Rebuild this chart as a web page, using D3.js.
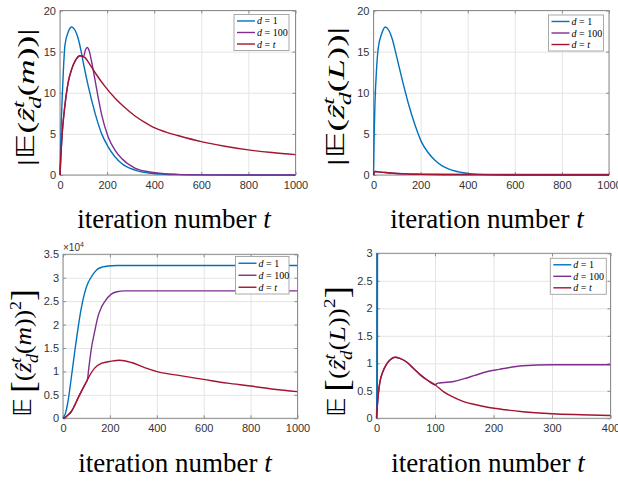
<!DOCTYPE html>
<html lang="en">
<head>
<meta charset="utf-8">
<title>iteration curves</title>
<script src="https://d3js.org/d3.v7.min.js"></script>
<style>
  body { margin: 0; background: #fff; }
  svg { display: block; }
  .tick text { font-family: "Liberation Sans", Arial, sans-serif; font-size: 11px; fill: #333; }
  .xlabel { font-family: "Liberation Serif", "Times New Roman", serif; font-size: 27px; fill: #000; }
  .ylabel { font-family: "Liberation Serif", "Times New Roman", serif; fill: #000; }
  .leg { font-family: "Liberation Serif", "Times New Roman", serif; font-size: 10px; fill: #000; }
  .expo { font-family: "Liberation Sans", Arial, sans-serif; font-size: 10px; fill: #333; }
</style>
</head>
<body>
<svg width="618" height="481"></svg>
<script>

// ---- data ----
const seriesNames = ["d = 1", "d = 100", "d = t"];
const colors = ["#0072BD", "#7E2F8E", "#A2142F"];

// top left: |E(z(m))|
const tA1 = [0, 5, 10, 14, 21, 35, 50, 64, 78, 90, 100, 120, 150, 177, 205, 262, 318, 375, 446, 500, 600, 800, 1000];
const vA1 = [0, 6.0, 9.8, 12.5, 15.8, 17.4, 18.0, 17.6, 16.5, 15.0, 13.5, 10.8, 7.4, 5.0, 3.4, 1.4, 0.6, 0.25, 0.1, 0.05, 0.01, 0, 0];
const tA2 = [0, 5, 10, 21, 35, 50, 65, 85, 100, 108, 116, 125, 134, 149, 163, 177, 205, 234, 262, 318, 375, 446, 500, 600, 800, 1000];
const vA2 = [0, 3.0, 5.3, 8.5, 11.3, 12.9, 13.9, 14.5, 14.4, 15.2, 15.5, 15.0, 13.8, 11.5, 9.3, 7.3, 4.6, 3.0, 2.0, 0.85, 0.4, 0.15, 0.07, 0.02, 0, 0];
const tA3 = [0, 5, 10, 21, 35, 50, 65, 85, 105, 125, 150, 190, 235, 275, 320, 360, 400, 450, 500, 600, 700, 800, 900, 1000];
const vA3 = [0, 3.0, 5.3, 8.5, 11.3, 12.9, 13.9, 14.5, 14.3, 13.5, 12.4, 10.8, 9.3, 8.2, 7.15, 6.4, 5.75, 5.22, 4.8, 4.05, 3.5, 3.05, 2.73, 2.48];

// top right: |E(z(L))|
const tB1 = [0, 3, 6, 13, 20, 35, 50, 65, 80, 90, 100, 120, 148, 176, 204, 230, 261, 290, 318, 350, 375, 400, 450, 500, 600, 800, 1000];
const vB1 = [0, 5.0, 8.5, 12.9, 15.4, 17.2, 18.0, 17.6, 16.5, 15.4, 14.2, 11.8, 8.7, 6.1, 4.0, 2.8, 1.8, 1.15, 0.75, 0.45, 0.3, 0.18, 0.07, 0.03, 0.01, 0, 0];
const tB2 = [0, 3, 8, 20, 50, 100, 150, 200, 300, 500, 1000];
const vB2 = [0, 0.3, 0.42, 0.38, 0.3, 0.18, 0.13, 0.11, 0.09, 0.07, 0.06];
const tB3 = [0, 3, 8, 20, 50, 100, 150, 200, 300, 500, 1000];
const vB3 = [0, 0.3, 0.42, 0.38, 0.3, 0.18, 0.11, 0.07, 0.03, 0.01, 0];

// bottom left: E[(z(m))^2]
const tC1 = [0, 10, 21, 35, 50, 64, 78, 92, 106, 121, 135, 149, 170, 192, 230, 300, 1000];
const vC1 = [0, 1000, 3500, 8500, 14200, 19200, 23500, 26700, 28800, 30200, 31200, 31900, 32300, 32500, 32600, 32600, 32600];
const tC2 = [0, 10, 21, 35, 50, 64, 85, 100, 104, 110, 121, 135, 149, 163, 178, 206, 230, 263, 1000];
const vC2 = [0, 200, 700, 1400, 2800, 4300, 6400, 7800, 8200, 10700, 14900, 18500, 21700, 23600, 24900, 26500, 27000, 27200, 27200];
const tC3 = [0, 10, 21, 35, 50, 64, 85, 100, 107, 135, 163, 206, 242, 292, 348, 405, 500, 600, 700, 800, 900, 1000];
const vC3 = [0, 200, 700, 1400, 2800, 4300, 6400, 7800, 8500, 10700, 11700, 12200, 12400, 11900, 10800, 9900, 9100, 8300, 7500, 6900, 6200, 5700];

// bottom right: E[(z(L))^2]  (d = 1 leaves the axis almost at once)
const tD1 = [0, 1, 2, 400];
const vD1 = [0, 0.5, 8, 8];
const tD2 = [0, 1.5, 3.5, 6, 11, 17, 23, 31, 40, 52, 63, 75, 86, 100, 105, 115, 132, 150, 168, 190, 210, 225, 250, 300, 400];
const vD2 = [0, 0.24, 0.48, 0.67, 0.85, 0.98, 1.06, 1.11, 1.09, 1.02, 0.91, 0.79, 0.70, 0.61, 0.64, 0.65, 0.67, 0.72, 0.78, 0.85, 0.89, 0.92, 0.955, 0.975, 0.975];
const tD3 = [0, 1.5, 3.5, 6, 11, 17, 23, 31, 40, 52, 63, 75, 86, 100, 115, 132, 150, 168, 190, 220, 250, 300, 350, 400];
const vD3 = [0, 0.24, 0.48, 0.67, 0.85, 0.98, 1.06, 1.11, 1.09, 1.02, 0.91, 0.79, 0.70, 0.61, 0.48, 0.38, 0.30, 0.25, 0.20, 0.155, 0.12, 0.084, 0.065, 0.05];

// tick values
const xTicks1000 = [0, 200, 400, 600, 800, 1000];
const xTicks400 = [0, 100, 200, 300, 400];
const yTicks20 = [0, 5, 10, 15, 20];
const yTicksC = [0, 5000, 10000, 15000, 20000, 25000, 30000, 35000];
const yTicksD = [0, 0.5, 1, 1.5, 2, 2.5, 3];

// ---- layout ----
const panels = [
  { left: 60, right: 295.5, top: 10.5, bottom: 175, xDomain: [0, 1000], yDomain: [0, 20],
    xTicks: xTicks1000, yTicks: yTicks20, fmt: d => d,
    series: [[tA1, vA1], [tA2, vA2], [tA3, vA3]],
    legend: { x: 234, y: 14.5, w: 55, h: 36 },
    xl: { x: 174, y: 228 }, yl: { x: 27, y: 97.5, len: 145, kind: "m1" } },
  { left: 373.5, right: 609, top: 10.5, bottom: 175, xDomain: [0, 1000], yDomain: [0, 20],
    xTicks: xTicks1000, yTicks: yTicks20, fmt: d => d,
    series: [[tB1, vB1], [tB2, vB2], [tB3, vB3]],
    legend: { x: 548.5, y: 15, w: 55, h: 36 },
    xl: { x: 487, y: 228 }, yl: { x: 337, y: 96.5, len: 147, kind: "L1" } },
  { left: 63, right: 297.5, top: 254.3, bottom: 418.3, xDomain: [0, 1000], yDomain: [0, 35000],
    xTicks: xTicks1000, yTicks: yTicksC, fmt: d => d / 1e4,
    series: [[tC1, vC1], [tC2, vC2], [tC3, vC3]],
    legend: { x: 235.5, y: 256.5, w: 53.5, h: 37.5 },
    xl: { x: 175, y: 471.5 }, yl: { x: 23, y: 353, len: 133, kind: "m2" }, expo: true },
  { left: 376.5, right: 610.5, top: 253.3, bottom: 418.3, xDomain: [0, 400], yDomain: [0, 3],
    xTicks: xTicks400, yTicks: yTicksD, fmt: d => d,
    series: [[tD1, vD1], [tD2, vD2], [tD3, vD3]],
    legend: { x: 550.3, y: 258.3, w: 56, h: 36 },
    xl: { x: 488, y: 472 }, yl: { x: 337, y: 351.5, len: 137, kind: "L2" } }
];

const svg = d3.select("svg");
const axisColor = "#8c8c8c";

// math label pieces: s text, it italic, lv 0 / "sup" / "sub", big for brackets
function labelParts(kind) {
  const arg = (kind === "m1" || kind === "m2") ? "m" : "L";
  const core = [
    { s: "(" }, { s: "\u1E91", it: true }, { s: "t", it: true, lv: "sup" }, { s: "d", it: true, lv: "sub" },
    { s: "(" }, { s: arg, it: true }, { s: ")" }, { s: ")" }
  ];
  if (kind === "m1" || kind === "L1") {
    return [{ s: "|" }, { s: "\uD835\uDD3C", bb: true }].concat(core, [{ s: "|" }]);
  }
  return [{ s: "\uD835\uDD3C", bb: true }, { s: "\u2009" }, { s: "[", big: true }].concat(core,
    [{ s: "2", lv: "sup" }, { s: "]", big: true }]);
}

function drawYLabel(o) {
  const fs = 24;
  const g = svg.append("g");
  const txt = g.append("text").attr("class", "ylabel").attr("text-anchor", "middle").style("font-size", fs + "px");
  const off = { 0: 0, sup: -0.42, sub: 0.28 };
  let cur = 0;
  labelParts(o.kind).forEach(p => {
    const lv = p.lv || 0;
    const sc = lv ? 0.7 : (p.big ? 1.4 : 1);
    const want = off[lv] + (p.big ? 0.1 : 0);
    const ts = txt.append("tspan").text(p.s).style("font-size", (sc * 100) + "%");
    if (p.it) ts.style("font-style", "italic");
    if (p.bb) ts.style("font-family", "'DejaVu Sans', 'DejaVu Serif', serif");
    if (lv === "sub") ts.attr("dx", "-0.3em");
    if (want !== cur) ts.attr("dy", ((want - cur) / sc).toFixed(3) + "em");
    cur = want;
  });
  const L = txt.node().getComputedTextLength();
  const bb = txt.node().getBBox();
  txt.attr("y", -(bb.y + bb.height / 2));
  // stretch along the text direction to the width of the original label
  g.attr("transform", `translate(${o.x},${o.y}) rotate(-90) scale(${o.len / L},1)`);
}

panels.forEach((p, pi) => {
  const x = d3.scaleLinear().domain(p.xDomain).range([p.left, p.right]);
  const y = d3.scaleLinear().domain(p.yDomain).range([p.bottom, p.top]);
  const ih = p.bottom - p.top, iw = p.right - p.left;

  // grid
  svg.append("g").attr("transform", `translate(0,${p.bottom})`)
    .call(d3.axisBottom(x).tickValues(p.xTicks).tickSize(-ih).tickFormat(""))
    .call(g => g.select(".domain").remove())
    .selectAll("line").attr("stroke", "#e4e4e4");
  svg.append("g").attr("transform", `translate(${p.left},0)`)
    .call(d3.axisLeft(y).tickValues(p.yTicks).tickSize(-iw).tickFormat(""))
    .call(g => g.select(".domain").remove())
    .selectAll("line").attr("stroke", "#e4e4e4");

  // box and inward ticks on all sides
  svg.append("rect").attr("x", p.left).attr("y", p.top).attr("width", iw).attr("height", ih)
    .attr("fill", "none").attr("stroke", axisColor);
  const axes = [
    [d3.axisBottom(x).tickValues(p.xTicks).tickPadding(6).tickFormat(d => d), `translate(0,${p.bottom})`],
    [d3.axisTop(x).tickValues(p.xTicks).tickFormat(""), `translate(0,${p.top})`],
    [d3.axisLeft(y).tickValues(p.yTicks).tickPadding(4).tickFormat(p.fmt), `translate(${p.left},0)`],
    [d3.axisRight(y).tickValues(p.yTicks).tickFormat(""), `translate(${p.right},0)`]
  ];
  axes.forEach(([ax, tr]) => {
    svg.append("g").attr("transform", tr)
      .call(ax.tickSizeInner(-3).tickSizeOuter(0))
      .call(g => g.select(".domain").remove())
      .selectAll("line").attr("stroke", axisColor);
  });

  // lines
  const clipId = "clip" + pi;
  svg.append("clipPath").attr("id", clipId).append("rect")
    .attr("x", p.left - 1).attr("y", p.top).attr("width", iw + 1).attr("height", ih + 1);
  const line = d3.line().x(d => x(d[0])).y(d => y(d[1])).curve(d3.curveMonotoneX);
  const lg = svg.append("g").attr("clip-path", `url(#${clipId})`);
  p.series.forEach(([ts, vs], si) => {
    lg.append("path").datum(d3.zip(ts, vs))
      .attr("d", line).attr("fill", "none")
      .attr("stroke", colors[si]).attr("stroke-width", si === 0 && pi === 3 ? 1.8 : 1.4);
  });

  // legend
  const L = p.legend;
  const leg = svg.append("g");
  leg.append("rect").attr("x", L.x).attr("y", L.y).attr("width", L.w).attr("height", L.h)
    .attr("fill", "#fff").attr("stroke", "#a0a0a0").attr("stroke-width", 0.9);
  seriesNames.forEach((name, si) => {
    const ry = L.y + L.h * (0.18 + 0.32 * si);
    leg.append("line").attr("x1", L.x + 3).attr("x2", L.x + 21).attr("y1", ry).attr("y2", ry)
      .attr("stroke", colors[si]).attr("stroke-width", 1.4);
    const t = leg.append("text").attr("class", "leg").attr("x", L.x + 23).attr("y", ry + 3.5);
    const bits = name.split(" = ");
    t.append("tspan").style("font-style", "italic").text(bits[0]);
    t.append("tspan").text(" = ");
    const last = t.append("tspan").text(bits[1]);
    if (bits[1] === "t") last.style("font-style", "italic");
  });

  if (p.expo) {
    const e = svg.append("text").attr("class", "expo").attr("x", p.left).attr("y", p.top - 3);
    e.append("tspan").text("\u00D710");
    e.append("tspan").attr("dy", -4).style("font-size", "7px").text("4");
  }

  // x label
  const xl = svg.append("text").attr("class", "xlabel").attr("text-anchor", "middle")
    .attr("x", p.xl.x).attr("y", p.xl.y);
  xl.append("tspan").text("iteration number ");
  xl.append("tspan").style("font-style", "italic").text("t");

  drawYLabel(p.yl);
});

</script>
</body>
</html>
